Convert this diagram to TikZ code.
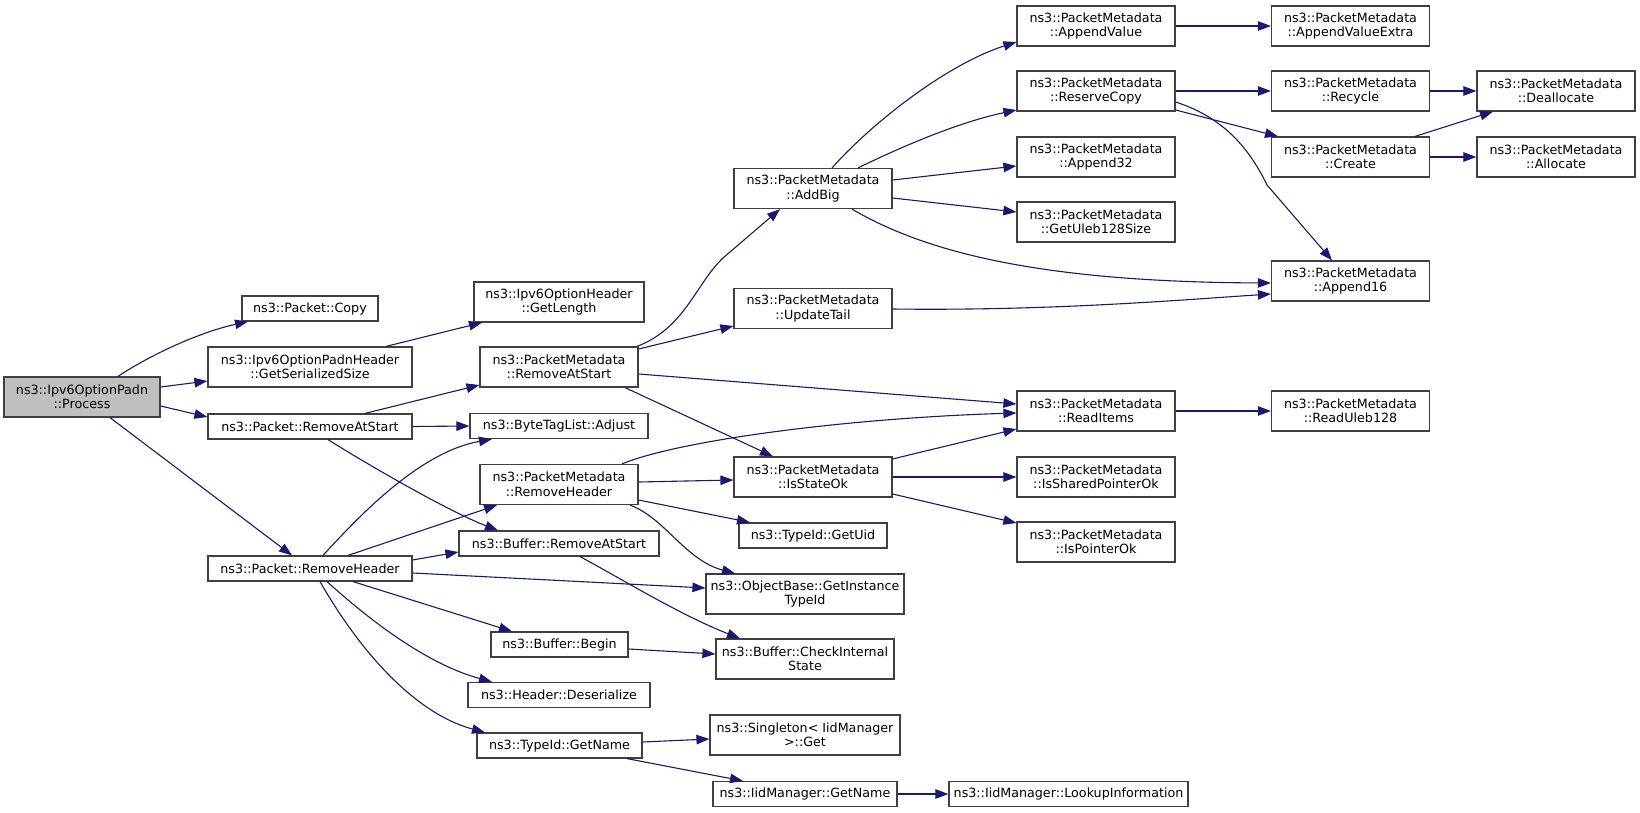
\documentclass[tikz,border=0pt]{standalone}
\usepackage{fontspec}
\setmainfont{DejaVu Sans}
\usetikzlibrary{arrows.meta,calc}
\definecolor{edgecol}{HTML}{191970}
\definecolor{boxborder}{HTML}{404040}
\definecolor{rootfill}{HTML}{BFBFBF}
\begin{document}
\begin{tikzpicture}[x=1pt,y=-1pt,
  fn/.style={draw=boxborder, line width=1.2pt, align=center, inner sep=0pt, fill=white,
    font=\fontsize{12.7}{14.5}\selectfont},
  two/.style={fn, minimum height=40pt},
  one/.style={fn, minimum height=25pt},
  call/.style={draw=edgecol, line width=1.1pt, -{Triangle[length=13pt,width=9.5pt]}}]
\useasboundingbox[fill=white] (0,0) rectangle (1640,813);

% column 1
\node[two, minimum width=156pt, fill=rootfill] (proc) at (82,397) {ns3::Ipv6OptionPadn\\::Process};
% column 2
\node[one, minimum width=136pt] (copy) at (310,308.5) {ns3::Packet::Copy};
\node[two, minimum width=204pt] (gss) at (310,367) {ns3::Ipv6OptionPadnHeader\\::GetSerializedSize};
\node[one, minimum width=204pt] (prs) at (310,426.5) {ns3::Packet::RemoveAtStart};
\node[one, minimum width=204pt] (prh) at (310,568.5) {ns3::Packet::RemoveHeader};
% column 3
\node[two, minimum width=170pt] (glen) at (559,302) {ns3::Ipv6OptionHeader\\::GetLength};
\node[two, minimum width=158pt] (pmras) at (559,367) {ns3::PacketMetadata\\::RemoveAtStart};
\node[one, minimum width=178pt] (btl) at (559,426) {ns3::ByteTagList::Adjust};
\node[two, minimum width=158pt] (pmrh) at (559,484.5) {ns3::PacketMetadata\\::RemoveHeader};
\node[one, minimum width=200pt] (bras) at (559,543.5) {ns3::Buffer::RemoveAtStart};
\node[one, minimum width=137pt] (bbeg) at (559.5,644.5) {ns3::Buffer::Begin};
\node[one, minimum width=182pt] (hdes) at (559,695) {ns3::Header::Deserialize};
\node[one, minimum width=165pt] (tgn) at (559.5,745.5) {ns3::TypeId::GetName};
% column 4
\node[two, minimum width=158pt] (addbig) at (813,188.5) {ns3::PacketMetadata\\::AddBig};
\node[two, minimum width=158pt] (utail) at (813,308.5) {ns3::PacketMetadata\\::UpdateTail};
\node[two, minimum width=158pt] (isok) at (813,477) {ns3::PacketMetadata\\::IsStateOk};
\node[one, minimum width=148pt] (guid) at (813,535.5) {ns3::TypeId::GetUid};
\node[two, minimum width=198pt] (obg) at (805,594) {ns3::ObjectBase::GetInstance\\TypeId};
\node[two, minimum width=178pt] (cis) at (805,659) {ns3::Buffer::CheckInternal\\State};
\node[two, minimum width=190pt] (sing) at (805,735) {ns3::Singleton< IidManager\\>::Get};
\node[one, minimum width=184pt] (iidgn) at (805,794) {ns3::IidManager::GetName};
% column 5
\node[two, minimum width=158pt] (appval) at (1096,26) {ns3::PacketMetadata\\::AppendValue};
\node[two, minimum width=158pt] (rescopy) at (1096,91) {ns3::PacketMetadata\\::ReserveCopy};
\node[two, minimum width=158pt] (app32) at (1096,157) {ns3::PacketMetadata\\::Append32};
\node[two, minimum width=158pt] (uleb) at (1096,222) {ns3::PacketMetadata\\::GetUleb128Size};
\node[two, minimum width=158pt] (ritems) at (1096,411) {ns3::PacketMetadata\\::ReadItems};
\node[two, minimum width=158pt] (isshared) at (1096,477) {ns3::PacketMetadata\\::IsSharedPointerOk};
\node[two, minimum width=158pt] (isptr) at (1096,542) {ns3::PacketMetadata\\::IsPointerOk};
\node[one, minimum width=239pt] (lookup) at (1068.5,794) {ns3::IidManager::LookupInformation};
% column 6
\node[two, minimum width=158pt] (appvx) at (1350.5,26) {ns3::PacketMetadata\\::AppendValueExtra};
\node[two, minimum width=158pt] (recycle) at (1350.5,91) {ns3::PacketMetadata\\::Recycle};
\node[two, minimum width=158pt] (create) at (1350.5,157) {ns3::PacketMetadata\\::Create};
\node[two, minimum width=158pt] (app16) at (1350.5,281) {ns3::PacketMetadata\\::Append16};
\node[two, minimum width=158pt] (ruleb) at (1350.5,411) {ns3::PacketMetadata\\::ReadUleb128};
% column 7
\node[two, minimum width=158pt] (dealloc) at (1556,91) {ns3::PacketMetadata\\::Deallocate};
\node[two, minimum width=158pt] (alloc) at (1556,157) {ns3::PacketMetadata\\::Allocate};

% edges from Process
\draw[call] (proc.north -| 118,0) .. controls (150,355) and (200,332) .. (copy.south -| 248,0);
\draw[call] (proc.east |- 0,387) -- (gss.west |- 0,381);
\draw[call] (proc.east |- 0,406) -- (prs.west |- 0,417);
\draw[call] (proc.south -| 110,0) -- (prh.north -| 292,0);
% GetSerializedSize
\draw[call] (gss.north -| 386,0) -- (glen.south -| 482,0);
% Packet::RemoveAtStart
\draw[call] (prs.north -| 365,0) -- (pmras.west |- 0,385);
\draw[call] (prs.east) -- (btl.west);
\draw[call] (prs.south -| 328,0) .. controls (370,466) and (450,512) .. (bras.north -| 498,0);
% Packet::RemoveHeader
\draw[call] (prh.north -| 323,0) .. controls (360,515) and (420,452) .. (btl.south -| 492,0);
\draw[call] (prh.north -| 348,0) -- (pmrh.south -| 497,0);
\draw[call] (prh.east |- 0,560) -- (bras.west |- 0,552);
\draw[call] (prh.east |- 0,573) -- (obg.west |- 0,588);
\draw[call] (prh.south -| 353,0) -- (bbeg.north -| 512,0);
\draw[call] (prh.south -| 327,0) .. controls (375,625) and (430,665) .. (hdes.north -| 492,0);
\draw[call] (prh.south -| 320,0) .. controls (365,660) and (420,715) .. (tgn.north -| 485,0);
% PacketMetadata::RemoveAtStart
\draw[call] (pmras.north -| 637,0) .. controls (685,328) and (695,285) .. (723,258) -- (addbig.south -| 780,0);
\draw[call] (pmras.east |- 0,349) -- (utail.west |- 0,326);
\draw[call] (pmras.east |- 0,374) -- (ritems.west |- 0,404);
\draw[call] (pmras.south -| 625,0) -- (isok.north -| 773,0);
% PacketMetadata::RemoveHeader
\draw[call] (pmrh.north -| 622,0) .. controls (680,440) and (850,418) .. (ritems.west |- 0,413);
\draw[call] (pmrh.east |- 0,482) -- (isok.west |- 0,480);
\draw[call] (pmrh.east |- 0,500) -- (guid.north -| 750,0);
\draw[call] (pmrh.south -| 630,0) .. controls (665,518) and (685,560) .. (obg.north -| 735,0);
% Buffer
\draw[call] (bras.south -| 580,0) .. controls (620,578) and (680,615) .. (cis.north -| 740,0);
\draw[call] (bbeg.east |- 0,649) -- (cis.west |- 0,654);
% TypeId::GetName
\draw[call] (tgn.east |- 0,742) -- (sing.west |- 0,739);
\draw[call] (tgn.south -| 627,0) -- (iidgn.north -| 743,0);
\draw[call] (iidgn.east) -- (lookup.west);
% AddBig
\draw[call] (addbig.north -| 832,0) .. controls (870,125) and (945,65) .. (appval.west |- 0,42);
\draw[call] (addbig.north -| 858,0) .. controls (905,145) and (960,122) .. (rescopy.west |- 0,110);
\draw[call] (addbig.east |- 0,180) -- (app32.west |- 0,166);
\draw[call] (addbig.east |- 0,198) -- (uleb.west |- 0,212);
\draw[call] (addbig.south -| 852,0) .. controls (930,255) and (1050,282) .. (app16.west |- 0,283);
% UpdateTail
\draw[call] (utail.east |- 0,309) .. controls (1050,311) and (1180,300) .. (app16.west |- 0,294);
% IsStateOk
\draw[call] (isok.east |- 0,459) -- (ritems.west |- 0,429);
\draw[call] (isok.east) -- (isshared.west);
\draw[call] (isok.east |- 0,494) -- (isptr.west |- 0,523);
% ReadItems
\draw[call] (ritems.east) -- (ruleb.west);
% column 5 -> 6
\draw[call] (appval.east) -- (appvx.west);
\draw[call] (rescopy.east) -- (recycle.west);
\draw[call] (rescopy.east |- 0,110) -- (create.north -| 1278,0);
\draw[call] (rescopy.east |- 0,102) .. controls (1225,118) and (1250,150) .. (1267,185) -- (app16.north -| 1332,0);
% column 6 -> 7
\draw[call] (recycle.east) -- (dealloc.west);
\draw[call] (create.north -| 1415,0) -- (dealloc.south -| 1493,0);
\draw[call] (create.east) -- (alloc.west);
\end{tikzpicture}
\end{document}
